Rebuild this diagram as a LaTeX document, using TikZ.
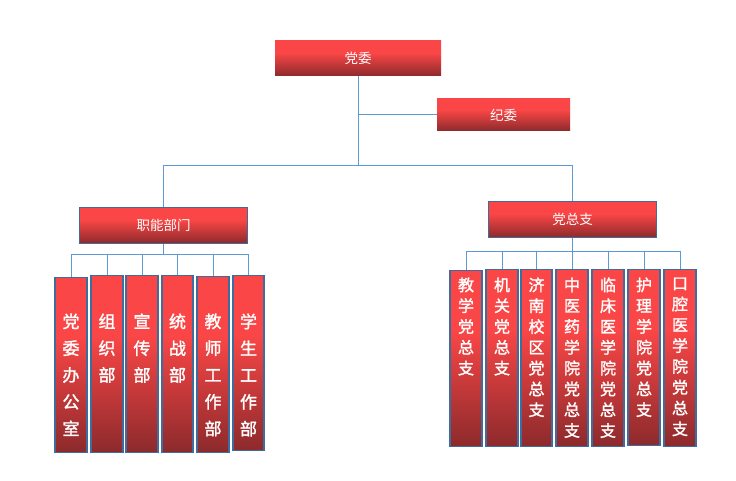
\documentclass[tikz,border=0pt]{standalone}
\usepackage{fontspec}
\newfontfamily\cjk{Noto Sans CJK SC}
\newfontfamily\cjkb[FakeBold=1.6]{Noto Sans CJK SC}
\usetikzlibrary{positioning}
\definecolor{ltred}{RGB}{250,70,70}
\definecolor{dkred}{RGB}{140,42,44}
\definecolor{edge}{RGB}{62,108,156}
\definecolor{wire}{RGB}{91,155,213}
\pgfdeclareverticalshading{redfade}{100bp}{color(0bp)=(dkred); color(25bp)=(dkred); color(58bp)=(ltred); color(100bp)=(ltred)}
\tikzset{
  head/.style={rectangle,shading=redfade,text=white,inner sep=0pt,font=\cjk\fontsize{13.5pt}{14pt}\selectfont},
  unit/.style={head,draw=edge,line width=1.1pt},
  colL/.style={rectangle,shading=redfade,draw=edge,line width=1.1pt,text=white,inner sep=0pt,anchor=north},
  colR/.style={colL},
  link/.style={draw=wire,line width=1pt}
}
\newcommand{\vertL}[3]{\parbox[c][#1pt][t]{30pt}{\centering\cjkb\fontsize{17pt}{26.8pt}\selectfont\vspace*{#2pt}#3}}
\newcommand{\vertR}[3]{\parbox[c][#1pt][t]{30pt}{\centering\cjkb\fontsize{16pt}{20.8pt}\selectfont\vspace*{#2pt}#3}}
\begin{document}
\begin{tikzpicture}[x=1pt,y=-1pt]
\useasboundingbox (0,0) rectangle (736,481);

\node[head,minimum width=166pt,minimum height=35pt] (dw) at (358,58.5) {党委};
\node[head,minimum width=133pt,minimum height=32pt] (jw) at (503.5,115) {纪委};
\node[unit,minimum width=168pt,minimum height=36pt] (zn) at (163.5,225.5) {职能部门};
\node[unit,minimum width=168pt,minimum height=36pt] (dzz) at (572.5,219.5) {党总支};

\node[colL,minimum width=32pt] (ban) at (71,277) {\vertL{175}{36}{党\\委\\办\\公\\室}};
\node[colL,minimum width=32pt] (zuz) at (107,275) {\vertL{177}{38}{组\\织\\部}};
\node[colL,minimum width=32pt] (xch) at (142,275) {\vertL{177}{38}{宣\\传\\部}};
\node[colL,minimum width=31pt] (tzh) at (177.5,275) {\vertL{177}{38}{统\\战\\部}};
\node[colL,minimum width=32pt] (jsh) at (213,276) {\vertL{176}{37}{教\\师\\工\\作\\部}};
\node[colL,minimum width=31pt] (xsh) at (248.5,275) {\vertL{175}{38}{学\\生\\工\\作\\部}};

\node[colR,minimum width=32pt] (jxz) at (466,270) {\vertR{176}{7}{教\\学\\党\\总\\支}};
\node[colR,minimum width=32pt] (jgz) at (502,269) {\vertR{177}{8}{机\\关\\党\\总\\支}};
\node[colR,minimum width=31pt] (jnz) at (536.5,269) {\vertR{177}{8}{济\\南\\校\\区\\党\\总\\支}};
\node[colR,minimum width=32pt] (zyz) at (572,269) {\vertR{177}{8}{中\\医\\药\\学\\院\\党\\总\\支}};
\node[colR,minimum width=32pt] (lcz) at (608,269) {\vertR{177}{8}{临\\床\\医\\学\\院\\党\\总\\支}};
\node[colR,minimum width=32pt] (hlz) at (644,269) {\vertR{176}{8}{护\\理\\学\\院\\党\\总\\支}};
\node[colR,minimum width=32pt] (kqz) at (680,269) {\vertR{177}{8}{口\\腔\\医\\学\\院\\党\\总\\支}};

\coordinate (tbus) at (358,166);
\coordinate (lbus) at (163.5,254);
\coordinate (rbus) at (572.5,251);

\draw[link] (dw.south) -- (tbus);
\draw[link] (jw.west) -- (jw.west -| dw.south);
\draw[link] (zn.north) |- (tbus);
\draw[link] (dzz.north) |- (tbus);

\draw[link] (zn.south) -- (lbus);
\draw[link] (ban.north) |- (lbus);
\draw[link] (zuz.north) |- (lbus);
\draw[link] (xch.north) |- (lbus);
\draw[link] (tzh.north) |- (lbus);
\draw[link] (jsh.north) |- (lbus);
\draw[link] (xsh.north) |- (lbus);

\draw[link] (dzz.south) -- (rbus);
\draw[link] (jxz.north) |- (rbus);
\draw[link] (jgz.north) |- (rbus);
\draw[link] (jnz.north) |- (rbus);
\draw[link] (zyz.north) |- (rbus);
\draw[link] (lcz.north) |- (rbus);
\draw[link] (hlz.north) |- (rbus);
\draw[link] (kqz.north) |- (rbus);

\end{tikzpicture}
\end{document}
